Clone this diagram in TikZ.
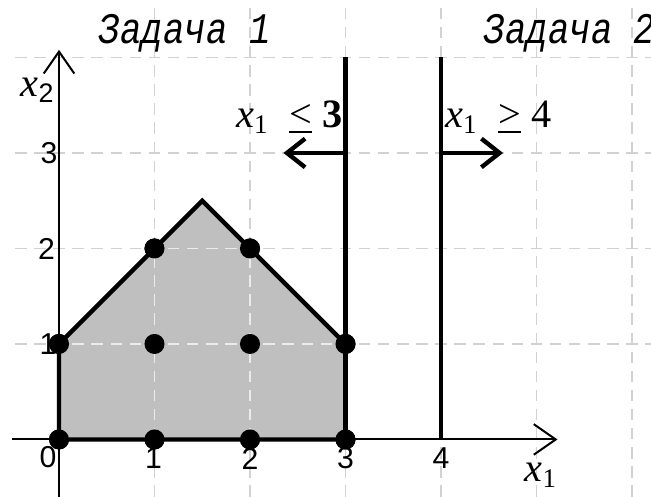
\documentclass[tikz,border=0pt]{standalone}
\usepackage{fontspec}
\setmainfont{Liberation Serif}
\newfontfamily\tickfont{Liberation Sans}
\newfontfamily\titlefont{Liberation Mono}
\usetikzlibrary{arrows.meta}
\newcommand\ulless{\underline{\smash{<}}}
\newcommand\ulmore{\underline{\smash{>}}}
\begin{document}
\begin{tikzpicture}[x=1cm,y=1cm,
  gridline/.style={dash pattern=on 0.12cm off 0.08cm, line width=0.5pt},
  heavy/.style={line width=1.3pt},
  axisline/.style={line width=0.6pt, -{Straight Barb[length=2.3mm,width=3.2mm,line width=0.6pt]}},
  bararrow/.style={line width=1.3pt, -{Straight Barb[length=1.9mm,width=3.0mm,line width=1.3pt]}},
  dot/.style={circle, fill=black, inner sep=0pt, minimum size=0.21cm},
  tick/.style={font=\tickfont\fontsize{9}{9}\selectfont, inner sep=0pt},
  lbl/.style={font=\fontsize{12}{12}\selectfont, inner sep=0pt, anchor=base},
  title/.style={font=\titlefont\itshape\fontsize{13}{13}\selectfont, inner sep=0pt, anchor=base west}
]
\useasboundingbox (-0.618,-0.596) rectangle (6.199,4.602);
% grid (outside)
\foreach \i in {1,...,6} \draw[gridline, gray!35] (\i,-0.6) -- (\i,4.52);
\foreach \j in {1,...,4} \draw[gridline, gray!35] (-0.46,\j) -- (6.2,\j);
% dots (named)
\node[dot] (p00) at (0,0) {};
\node[dot] (p10) at (1,0) {};
\node[dot] (p20) at (2,0) {};
\node[dot] (p30) at (3,0) {};
\node[dot] (p01) at (0,1) {};
\node[dot] (p11) at (1,1) {};
\node[dot] (p21) at (2,1) {};
\node[dot] (p31) at (3,1) {};
\node[dot] (p12) at (1,2) {};
\node[dot] (p22) at (2,2) {};
\coordinate (peak) at (1.5,2.5);
% feasible region
\fill[fill=black!25] (p00.center) -- (p01.center) -- (peak) -- (p31.center) -- (p30.center) -- cycle;
\begin{scope}
  \clip (p00.center) -- (p01.center) -- (peak) -- (p31.center) -- (p30.center) -- cycle;
  \foreach \i in {1,...,6} \draw[gridline, white!92!black] (\i,-0.6) -- (\i,4.52);
  \foreach \j in {1,...,4} \draw[gridline, white!92!black] (-0.46,\j) -- (6.2,\j);
\end{scope}
% axes
\coordinate (ybot) at (0,-0.6);
\coordinate (ytop) at (0,4.08);
\coordinate (xleft) at (-0.49,0);
\coordinate (xright) at (5.22,0);
\draw[axisline] (ybot) -- (ytop);
\draw[axisline] (xleft) -- (xright);
% tick labels
\node[tick] (t0) at (-0.115,-0.18) {0};
\node[tick] (tx1) at (0.99,-0.2) {1};
\node[tick] (tx2) at (2,-0.2) {2};
\node[tick] (tx3) at (3,-0.2) {3};
\node[tick] (tx4) at (4,-0.2) {4};
\node[tick] (ty1) at (-0.115,1) {1};
\node[tick] (ty2) at (-0.13,2) {2};
\node[tick] (ty3) at (-0.105,3) {3};
% feasible region outline and dots on top
\draw[heavy, line join=miter] (p30.center) -- (p00.center) -- (p01.center) -- (peak) -- (p31.center) -- (p30.center);
\foreach \n in {p00,p10,p20,p30,p01,p11,p21,p31,p12,p22} \fill (\n) circle (0.105);
% branching lines
\coordinate (l3top) at (3,4);
\coordinate (l4top) at (4,4);
\coordinate (l4bot) at (4,0);
\coordinate (a3) at (3,3);
\coordinate (a3end) at (2.35,3);
\coordinate (a4) at (4,3);
\coordinate (a4end) at (4.65,3);
\draw[heavy] (p30.center) -- (l3top);
\draw[heavy] (l4bot) -- (l4top);
\draw[bararrow] (a3) -- (a3end);
\draw[bararrow] (a4) -- (a4end);
% labels
\node[lbl] (c1) at (2.41,3.27) {\textit{x}\textsubscript{1} ~\ulless{} \textbf{3}};
\node[lbl] (c2) at (4.6,3.27) {\textit{x}\textsubscript{1} ~\ulmore{} 4};
\node[lbl] (ax2) at (-0.22,3.59) {\textit{x}\textsubscript{\tickfont 2}};
\node[lbl] (ax1) at (5.05,-0.44) {\textit{x}\textsubscript{1}};
\node[title] (z1) at (0.41,4.15) {\scalebox{0.82}[1]{Задача 1}};
\node[title] (z2) at (4.44,4.15) {\scalebox{0.82}[1]{Задача 2}};
\end{tikzpicture}
\end{document}
